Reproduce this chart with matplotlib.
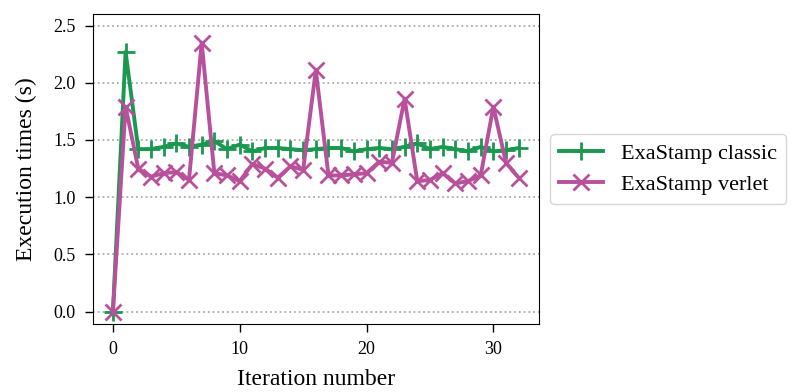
import numpy as np
import matplotlib.pyplot as plt

# Iterations and measured execution times (s)
iterations = np.arange(33)
classic = [0.0, 2.27, 1.42, 1.42, 1.44, 1.47, 1.44, 1.46, 1.49, 1.42, 1.46,
           1.40, 1.43, 1.43, 1.42, 1.41, 1.42, 1.43, 1.43, 1.40, 1.42, 1.43,
           1.42, 1.44, 1.47, 1.42, 1.44, 1.42, 1.40, 1.44, 1.40, 1.41, 1.43]
verlet = [0.0, 1.79, 1.25, 1.18, 1.21, 1.22, 1.15, 2.35, 1.21, 1.19, 1.14,
          1.29, 1.25, 1.17, 1.27, 1.24, 2.11, 1.19, 1.19, 1.20, 1.21, 1.31,
          1.30, 1.86, 1.14, 1.15, 1.21, 1.12, 1.14, 1.19, 1.79, 1.30, 1.17]

plt.rcParams['font.family'] = ['Liberation Serif', 'DejaVu Serif']

fig = plt.figure(figsize=(7.95, 3.92), dpi=100)
ax = fig.add_axes([0.1165, 0.173, 0.5615, 0.791])

ax.plot(iterations, classic, color='#1b9850', lw=2.8, marker='+',
        ms=13, mew=2.0, label='ExaStamp classic')
ax.plot(iterations, verlet, color='#b9509b', lw=2.8, marker='x',
        ms=11, mew=2.0, label='ExaStamp verlet')

ax.set_ylim(-0.11, 2.6)
ax.set_yticks([0.0, 0.5, 1.0, 1.5, 2.0, 2.5])
ax.set_xticks([0, 10, 20, 30])
ax.yaxis.grid(True, linestyle=':', color='#aaaaaa', lw=1.3)
ax.set_axisbelow(True)
ax.tick_params(labelsize=13, length=6, width=1, pad=6)

ax.set_xlabel('Iteration number', fontsize=17, labelpad=8)
ax.set_ylabel('Execution times (s)', fontsize=17, labelpad=12)

ax.legend(loc='center left', bbox_to_anchor=(1.0, 0.5), fontsize=16,
          handlelength=2.0)

fig.savefig('out.png', dpi=100)
